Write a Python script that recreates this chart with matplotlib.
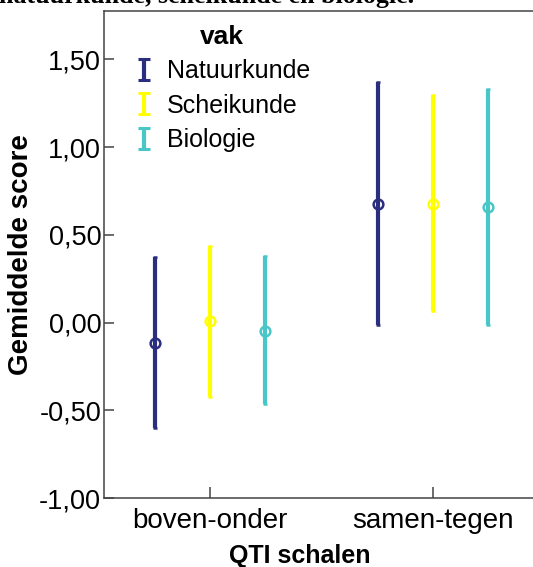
import numpy as np
import matplotlib
matplotlib.use("Agg")
import matplotlib.pyplot as plt
from matplotlib.legend_handler import HandlerErrorbar

plt.rcParams['font.family'] = ['Liberation Sans', 'DejaVu Sans']

categories = ["boven-onder", "samen-tegen"]
series = ["Natuurkunde", "Scheikunde", "Biologie"]
means = {
    "Natuurkunde": [-0.114, 0.675],
    "Scheikunde": [0.006, 0.675],
    "Biologie": [-0.046, 0.658],
}
lower = {
    "Natuurkunde": [-0.600, -0.017],
    "Scheikunde": [-0.422, 0.063],
    "Biologie": [-0.462, -0.017],
}
upper = {
    "Natuurkunde": [0.371, 1.368],
    "Scheikunde": [0.434, 1.296],
    "Biologie": [0.377, 1.328],
}
colors = {"Natuurkunde": "#2B2E7E", "Scheikunde": "#FFFF00", "Biologie": "#48C6C8"}
yticks = [-1.0, -0.5, 0.0, 0.5, 1.0, 1.5]
ytick_labels = ["-1,00", "-0,50", "0,00", "0,50", "1,00", "1,50"]

W, H = 533, 567
fig = plt.figure(figsize=(W / 100, H / 100), dpi=100)
left_px, top_px, bottom_px = 104, 11, 498
ax = fig.add_axes([left_px / W, (H - bottom_px) / H, 1 - left_px / W, (bottom_px - top_px) / H])

x = np.arange(len(categories))
offsets = [-0.247, 0.0, 0.247]
for s, off in zip(series, offsets):
    m = np.array(means[s])
    lo = m - np.array(lower[s])
    hi = np.array(upper[s]) - m
    ax.errorbar(x + off, m, yerr=[lo, hi], fmt='o', color=colors[s], ecolor=colors[s],
                mfc='none', mec=colors[s], ms=7, mew=1.8, elinewidth=3.0,
                capsize=1.2, capthick=2, zorder=3)

# legend proxies
proxies = []
for s in series:
    p = ax.errorbar([np.nan], [np.nan], yerr=[[0.1], [0.1]], fmt='none', ecolor=colors[s],
                    elinewidth=3.0, capsize=4.5, capthick=2.2, label=s)
    proxies.append(p)

ax.set_xlim(-0.475, 1.448)
ax.set_ylim(-1.0, 1.775)
ax.set_xticks(x)
ax.set_xticklabels(categories)
ax.set_yticks(yticks)
ax.set_yticklabels(ytick_labels)
for sp in ["left", "top", "bottom"]:
    ax.spines[sp].set_color("#444444")
    ax.spines[sp].set_linewidth(1.1)
ax.spines["right"].set_visible(False)
ax.tick_params(axis='y', direction='in', length=7, width=1.1, color="#444444", labelsize=19.5, pad=2)
ax.tick_params(axis='x', direction='in', length=8, width=1.1, color="#444444", labelsize=20, pad=7)

ax.set_ylabel("Gemiddelde score", fontsize=20, fontweight='bold', labelpad=4)
ax.set_xlabel("QTI schalen", fontsize=18, fontweight='bold', va='baseline')
ax.xaxis.set_label_coords((300 - left_px) / (W - left_px), -(563 - bottom_px) / (bottom_px - top_px))

leg = ax.legend(handles=proxies, labels=series, title="vak", frameon=False,
                loc='upper left', bbox_to_anchor=(0.018, 1.018), fontsize=18,
                title_fontproperties={'weight': 'bold', 'size': 19},
                handlelength=0.8, handletextpad=0.5, labelspacing=0.42,
                handler_map={type(proxies[0]): HandlerErrorbar(yerr_size=0.42)})

fig.text(-0.002, 1 - 3 / H, "natuurkunde, scheikunde en biologie.", family="Liberation Serif",
         fontweight='bold', fontsize=18.6, ha='left', va='baseline')

fig.savefig("out.png", dpi=100)
